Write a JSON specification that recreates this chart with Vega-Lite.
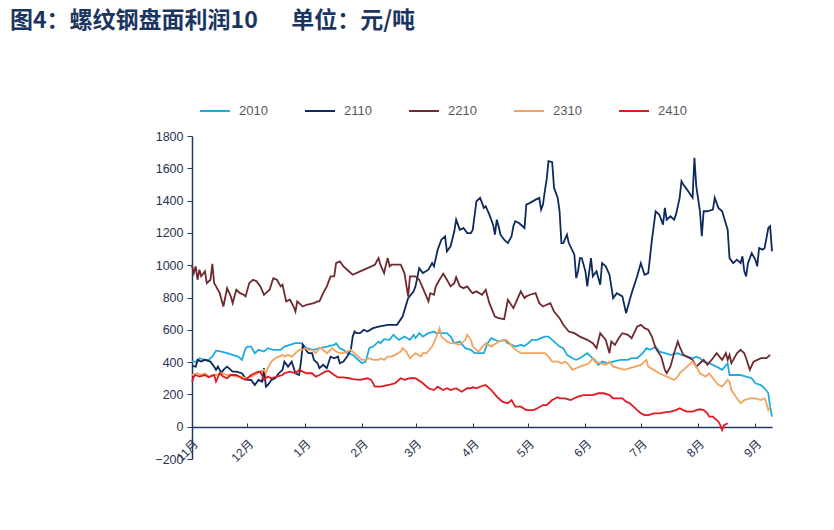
{
  "$schema": "https://vega.github.io/schema/vega-lite/v6.json",
  "width": 580,
  "height": 323,
  "autosize": "none",
  "padding": {"left": 192, "top": 136, "right": 62, "bottom": 71},
  "background": "white",
  "title": {
    "text": "图4：螺纹钢盘面利润10\u3000\u00a0\u00a0单位：元/吨",
    "anchor": "start",
    "frame": "group",
    "dx": -182,
    "dy": -58,
    "font": "Noto Sans CJK SC",
    "fontSize": 23,
    "fontWeight": "bold",
    "color": "#1B3561"
  },
  "config": {"view": {"stroke": null}},
  "data": {"values": [
{"s":"2010","d":"2023-11-01","v":403},{"s":"2010","d":"2023-11-04","v":403},{"s":"2010","d":"2023-11-05","v":424},{"s":"2010","d":"2023-11-08","v":414},{"s":"2010","d":"2023-11-10","v":414},{"s":"2010","d":"2023-11-12","v":434},{"s":"2010","d":"2023-11-14","v":471},{"s":"2010","d":"2023-11-17","v":465},{"s":"2010","d":"2023-11-20","v":455},{"s":"2010","d":"2023-11-23","v":445},{"s":"2010","d":"2023-11-26","v":434},{"s":"2010","d":"2023-11-28","v":414},{"s":"2010","d":"2023-11-30","v":486},{"s":"2010","d":"2023-12-01","v":496},{"s":"2010","d":"2023-12-03","v":496},{"s":"2010","d":"2023-12-05","v":455},{"s":"2010","d":"2023-12-07","v":476},{"s":"2010","d":"2023-12-10","v":465},{"s":"2010","d":"2023-12-12","v":486},{"s":"2010","d":"2023-12-15","v":476},{"s":"2010","d":"2023-12-19","v":476},{"s":"2010","d":"2023-12-21","v":496},{"s":"2010","d":"2023-12-24","v":507},{"s":"2010","d":"2023-12-27","v":517},{"s":"2010","d":"2023-12-30","v":517},{"s":"2010","d":"2024-01-02","v":486},{"s":"2010","d":"2024-01-06","v":476},{"s":"2010","d":"2024-01-09","v":486},{"s":"2010","d":"2024-01-13","v":496},{"s":"2010","d":"2024-01-17","v":507},{"s":"2010","d":"2024-01-18","v":517},{"s":"2010","d":"2024-01-20","v":486},{"s":"2010","d":"2024-01-22","v":476},{"s":"2010","d":"2024-01-24","v":455},{"s":"2010","d":"2024-01-27","v":445},{"s":"2010","d":"2024-01-29","v":424},{"s":"2010","d":"2024-02-01","v":393},{"s":"2010","d":"2024-02-03","v":403},{"s":"2010","d":"2024-02-05","v":486},{"s":"2010","d":"2024-02-07","v":496},{"s":"2010","d":"2024-02-10","v":527},{"s":"2010","d":"2024-02-11","v":517},{"s":"2010","d":"2024-02-13","v":542},{"s":"2010","d":"2024-02-16","v":538},{"s":"2010","d":"2024-02-18","v":569},{"s":"2010","d":"2024-02-21","v":538},{"s":"2010","d":"2024-02-24","v":558},{"s":"2010","d":"2024-02-27","v":538},{"s":"2010","d":"2024-02-29","v":569},{"s":"2010","d":"2024-03-01","v":548},{"s":"2010","d":"2024-03-03","v":579},{"s":"2010","d":"2024-03-05","v":558},{"s":"2010","d":"2024-03-08","v":579},{"s":"2010","d":"2024-03-11","v":589},{"s":"2010","d":"2024-03-12","v":579},{"s":"2010","d":"2024-03-15","v":579},{"s":"2010","d":"2024-03-18","v":579},{"s":"2010","d":"2024-03-20","v":558},{"s":"2010","d":"2024-03-22","v":517},{"s":"2010","d":"2024-03-25","v":527},{"s":"2010","d":"2024-03-28","v":486},{"s":"2010","d":"2024-03-31","v":476},{"s":"2010","d":"2024-04-02","v":455},{"s":"2010","d":"2024-04-04","v":455},{"s":"2010","d":"2024-04-07","v":455},{"s":"2010","d":"2024-04-09","v":517},{"s":"2010","d":"2024-04-11","v":548},{"s":"2010","d":"2024-04-13","v":538},{"s":"2010","d":"2024-04-15","v":527},{"s":"2010","d":"2024-04-18","v":538},{"s":"2010","d":"2024-04-20","v":517},{"s":"2010","d":"2024-04-22","v":507},{"s":"2010","d":"2024-04-24","v":496},{"s":"2010","d":"2024-04-27","v":507},{"s":"2010","d":"2024-04-29","v":500},{"s":"2010","d":"2024-05-01","v":517},{"s":"2010","d":"2024-05-03","v":538},{"s":"2010","d":"2024-05-06","v":538},{"s":"2010","d":"2024-05-08","v":548},{"s":"2010","d":"2024-05-10","v":558},{"s":"2010","d":"2024-05-12","v":558},{"s":"2010","d":"2024-05-14","v":538},{"s":"2010","d":"2024-05-16","v":517},{"s":"2010","d":"2024-05-18","v":496},{"s":"2010","d":"2024-05-20","v":486},{"s":"2010","d":"2024-05-22","v":445},{"s":"2010","d":"2024-05-25","v":424},{"s":"2010","d":"2024-05-27","v":414},{"s":"2010","d":"2024-05-29","v":424},{"s":"2010","d":"2024-06-02","v":455},{"s":"2010","d":"2024-06-04","v":434},{"s":"2010","d":"2024-06-06","v":414},{"s":"2010","d":"2024-06-08","v":383},{"s":"2010","d":"2024-06-10","v":403},{"s":"2010","d":"2024-06-13","v":393},{"s":"2010","d":"2024-06-16","v":403},{"s":"2010","d":"2024-06-20","v":414},{"s":"2010","d":"2024-06-24","v":414},{"s":"2010","d":"2024-06-26","v":424},{"s":"2010","d":"2024-06-29","v":424},{"s":"2010","d":"2024-07-02","v":455},{"s":"2010","d":"2024-07-04","v":486},{"s":"2010","d":"2024-07-06","v":476},{"s":"2010","d":"2024-07-09","v":496},{"s":"2010","d":"2024-07-11","v":465},{"s":"2010","d":"2024-07-14","v":455},{"s":"2010","d":"2024-07-17","v":445},{"s":"2010","d":"2024-07-21","v":455},{"s":"2010","d":"2024-07-23","v":445},{"s":"2010","d":"2024-07-26","v":434},{"s":"2010","d":"2024-07-29","v":424},{"s":"2010","d":"2024-07-31","v":434},{"s":"2010","d":"2024-08-02","v":424},{"s":"2010","d":"2024-08-04","v":403},{"s":"2010","d":"2024-08-07","v":393},{"s":"2010","d":"2024-08-09","v":383},{"s":"2010","d":"2024-08-11","v":372},{"s":"2010","d":"2024-08-14","v":352},{"s":"2010","d":"2024-08-17","v":393},{"s":"2010","d":"2024-08-18","v":320},{"s":"2010","d":"2024-08-20","v":320},{"s":"2010","d":"2024-08-24","v":320},{"s":"2010","d":"2024-08-27","v":310},{"s":"2010","d":"2024-08-30","v":300},{"s":"2010","d":"2024-09-01","v":269},{"s":"2010","d":"2024-09-04","v":258},{"s":"2010","d":"2024-09-06","v":238},{"s":"2010","d":"2024-09-08","v":207},{"s":"2010","d":"2024-09-09","v":124},{"s":"2010","d":"2024-09-10","v":62},
{"s":"2110","d":"2023-11-01","v":376},{"s":"2110","d":"2023-11-03","v":372},{"s":"2110","d":"2023-11-04","v":414},{"s":"2110","d":"2023-11-06","v":403},{"s":"2110","d":"2023-11-08","v":414},{"s":"2110","d":"2023-11-11","v":403},{"s":"2110","d":"2023-11-13","v":372},{"s":"2110","d":"2023-11-14","v":352},{"s":"2110","d":"2023-11-15","v":372},{"s":"2110","d":"2023-11-17","v":331},{"s":"2110","d":"2023-11-18","v":352},{"s":"2110","d":"2023-11-20","v":372},{"s":"2110","d":"2023-11-22","v":352},{"s":"2110","d":"2023-11-23","v":341},{"s":"2110","d":"2023-11-25","v":341},{"s":"2110","d":"2023-11-28","v":331},{"s":"2110","d":"2023-11-30","v":300},{"s":"2110","d":"2023-12-01","v":290},{"s":"2110","d":"2023-12-03","v":290},{"s":"2110","d":"2023-12-05","v":258},{"s":"2110","d":"2023-12-07","v":290},{"s":"2110","d":"2023-12-09","v":279},{"s":"2110","d":"2023-12-10","v":362},{"s":"2110","d":"2023-12-11","v":248},{"s":"2110","d":"2023-12-12","v":258},{"s":"2110","d":"2023-12-14","v":290},{"s":"2110","d":"2023-12-16","v":300},{"s":"2110","d":"2023-12-18","v":331},{"s":"2110","d":"2023-12-20","v":352},{"s":"2110","d":"2023-12-21","v":403},{"s":"2110","d":"2023-12-23","v":372},{"s":"2110","d":"2023-12-25","v":403},{"s":"2110","d":"2023-12-27","v":331},{"s":"2110","d":"2023-12-29","v":320},{"s":"2110","d":"2023-12-30","v":403},{"s":"2110","d":"2023-12-31","v":507},{"s":"2110","d":"2024-01-01","v":486},{"s":"2110","d":"2024-01-03","v":455},{"s":"2110","d":"2024-01-05","v":455},{"s":"2110","d":"2024-01-06","v":414},{"s":"2110","d":"2024-01-08","v":393},{"s":"2110","d":"2024-01-09","v":362},{"s":"2110","d":"2024-01-11","v":383},{"s":"2110","d":"2024-01-13","v":362},{"s":"2110","d":"2024-01-15","v":434},{"s":"2110","d":"2024-01-17","v":424},{"s":"2110","d":"2024-01-19","v":434},{"s":"2110","d":"2024-01-20","v":393},{"s":"2110","d":"2024-01-22","v":403},{"s":"2110","d":"2024-01-24","v":434},{"s":"2110","d":"2024-01-26","v":476},{"s":"2110","d":"2024-01-27","v":558},{"s":"2110","d":"2024-01-28","v":589},{"s":"2110","d":"2024-01-29","v":579},{"s":"2110","d":"2024-01-31","v":579},{"s":"2110","d":"2024-02-02","v":600},{"s":"2110","d":"2024-02-04","v":589},{"s":"2110","d":"2024-02-07","v":610},{"s":"2110","d":"2024-02-10","v":620},{"s":"2110","d":"2024-02-15","v":631},{"s":"2110","d":"2024-02-20","v":631},{"s":"2110","d":"2024-02-23","v":682},{"s":"2110","d":"2024-02-26","v":796},{"s":"2110","d":"2024-02-29","v":838},{"s":"2110","d":"2024-03-01","v":869},{"s":"2110","d":"2024-03-03","v":982},{"s":"2110","d":"2024-03-05","v":951},{"s":"2110","d":"2024-03-08","v":972},{"s":"2110","d":"2024-03-10","v":1013},{"s":"2110","d":"2024-03-11","v":993},{"s":"2110","d":"2024-03-12","v":1044},{"s":"2110","d":"2024-03-13","v":1096},{"s":"2110","d":"2024-03-15","v":1158},{"s":"2110","d":"2024-03-17","v":1179},{"s":"2110","d":"2024-03-18","v":1086},{"s":"2110","d":"2024-03-20","v":1117},{"s":"2110","d":"2024-03-22","v":1210},{"s":"2110","d":"2024-03-23","v":1282},{"s":"2110","d":"2024-03-25","v":1220},{"s":"2110","d":"2024-03-27","v":1230},{"s":"2110","d":"2024-03-29","v":1199},{"s":"2110","d":"2024-03-31","v":1199},{"s":"2110","d":"2024-04-01","v":1220},{"s":"2110","d":"2024-04-03","v":1396},{"s":"2110","d":"2024-04-05","v":1417},{"s":"2110","d":"2024-04-07","v":1355},{"s":"2110","d":"2024-04-08","v":1365},{"s":"2110","d":"2024-04-10","v":1313},{"s":"2110","d":"2024-04-12","v":1251},{"s":"2110","d":"2024-04-13","v":1189},{"s":"2110","d":"2024-04-14","v":1282},{"s":"2110","d":"2024-04-15","v":1241},{"s":"2110","d":"2024-04-16","v":1189},{"s":"2110","d":"2024-04-18","v":1158},{"s":"2110","d":"2024-04-20","v":1137},{"s":"2110","d":"2024-04-22","v":1179},{"s":"2110","d":"2024-04-23","v":1241},{"s":"2110","d":"2024-04-24","v":1272},{"s":"2110","d":"2024-04-26","v":1261},{"s":"2110","d":"2024-04-28","v":1241},{"s":"2110","d":"2024-04-29","v":1230},{"s":"2110","d":"2024-04-30","v":1375},{"s":"2110","d":"2024-05-02","v":1386},{"s":"2110","d":"2024-05-05","v":1406},{"s":"2110","d":"2024-05-07","v":1417},{"s":"2110","d":"2024-05-08","v":1344},{"s":"2110","d":"2024-05-09","v":1375},{"s":"2110","d":"2024-05-10","v":1458},{"s":"2110","d":"2024-05-11","v":1530},{"s":"2110","d":"2024-05-12","v":1644},{"s":"2110","d":"2024-05-14","v":1638},{"s":"2110","d":"2024-05-15","v":1479},{"s":"2110","d":"2024-05-17","v":1417},{"s":"2110","d":"2024-05-18","v":1334},{"s":"2110","d":"2024-05-19","v":1137},{"s":"2110","d":"2024-05-20","v":1137},{"s":"2110","d":"2024-05-22","v":1189},{"s":"2110","d":"2024-05-23","v":1137},{"s":"2110","d":"2024-05-26","v":1065},{"s":"2110","d":"2024-05-27","v":920},{"s":"2110","d":"2024-05-28","v":962},{"s":"2110","d":"2024-05-29","v":1044},{"s":"2110","d":"2024-05-30","v":1044},{"s":"2110","d":"2024-06-01","v":962},{"s":"2110","d":"2024-06-02","v":869},{"s":"2110","d":"2024-06-04","v":1044},{"s":"2110","d":"2024-06-05","v":931},{"s":"2110","d":"2024-06-07","v":962},{"s":"2110","d":"2024-06-09","v":879},{"s":"2110","d":"2024-06-10","v":1013},{"s":"2110","d":"2024-06-12","v":993},{"s":"2110","d":"2024-06-14","v":941},{"s":"2110","d":"2024-06-15","v":869},{"s":"2110","d":"2024-06-16","v":796},{"s":"2110","d":"2024-06-18","v":827},{"s":"2110","d":"2024-06-21","v":807},{"s":"2110","d":"2024-06-23","v":703},{"s":"2110","d":"2024-06-25","v":786},{"s":"2110","d":"2024-06-26","v":827},{"s":"2110","d":"2024-06-29","v":931},{"s":"2110","d":"2024-07-01","v":1013},{"s":"2110","d":"2024-07-03","v":941},{"s":"2110","d":"2024-07-05","v":951},{"s":"2110","d":"2024-07-07","v":1158},{"s":"2110","d":"2024-07-09","v":1334},{"s":"2110","d":"2024-07-11","v":1313},{"s":"2110","d":"2024-07-13","v":1251},{"s":"2110","d":"2024-07-14","v":1355},{"s":"2110","d":"2024-07-15","v":1282},{"s":"2110","d":"2024-07-17","v":1303},{"s":"2110","d":"2024-07-19","v":1282},{"s":"2110","d":"2024-07-20","v":1313},{"s":"2110","d":"2024-07-22","v":1417},{"s":"2110","d":"2024-07-23","v":1520},{"s":"2110","d":"2024-07-24","v":1499},{"s":"2110","d":"2024-07-26","v":1468},{"s":"2110","d":"2024-07-29","v":1417},{"s":"2110","d":"2024-07-30","v":1665},{"s":"2110","d":"2024-07-31","v":1489},{"s":"2110","d":"2024-08-02","v":1334},{"s":"2110","d":"2024-08-03","v":1179},{"s":"2110","d":"2024-08-04","v":1334},{"s":"2110","d":"2024-08-06","v":1334},{"s":"2110","d":"2024-08-09","v":1344},{"s":"2110","d":"2024-08-10","v":1417},{"s":"2110","d":"2024-08-12","v":1355},{"s":"2110","d":"2024-08-14","v":1334},{"s":"2110","d":"2024-08-17","v":1220},{"s":"2110","d":"2024-08-18","v":1044},{"s":"2110","d":"2024-08-20","v":1013},{"s":"2110","d":"2024-08-22","v":1034},{"s":"2110","d":"2024-08-24","v":1013},{"s":"2110","d":"2024-08-25","v":1055},{"s":"2110","d":"2024-08-26","v":962},{"s":"2110","d":"2024-08-27","v":931},{"s":"2110","d":"2024-08-28","v":1013},{"s":"2110","d":"2024-08-30","v":1075},{"s":"2110","d":"2024-09-01","v":1034},{"s":"2110","d":"2024-09-02","v":993},{"s":"2110","d":"2024-09-03","v":1106},{"s":"2110","d":"2024-09-05","v":1096},{"s":"2110","d":"2024-09-06","v":1106},{"s":"2110","d":"2024-09-08","v":1230},{"s":"2110","d":"2024-09-09","v":1241},{"s":"2110","d":"2024-09-10","v":1086},
{"s":"2210","d":"2023-11-01","v":997},{"s":"2210","d":"2023-11-02","v":951},{"s":"2210","d":"2023-11-03","v":993},{"s":"2210","d":"2023-11-04","v":910},{"s":"2210","d":"2023-11-05","v":972},{"s":"2210","d":"2023-11-06","v":931},{"s":"2210","d":"2023-11-08","v":962},{"s":"2210","d":"2023-11-09","v":889},{"s":"2210","d":"2023-11-11","v":910},{"s":"2210","d":"2023-11-12","v":1009},{"s":"2210","d":"2023-11-13","v":889},{"s":"2210","d":"2023-11-14","v":869},{"s":"2210","d":"2023-11-16","v":827},{"s":"2210","d":"2023-11-18","v":744},{"s":"2210","d":"2023-11-20","v":858},{"s":"2210","d":"2023-11-22","v":807},{"s":"2210","d":"2023-11-23","v":765},{"s":"2210","d":"2023-11-25","v":848},{"s":"2210","d":"2023-11-27","v":827},{"s":"2210","d":"2023-11-29","v":817},{"s":"2210","d":"2023-11-30","v":807},{"s":"2210","d":"2023-12-02","v":889},{"s":"2210","d":"2023-12-04","v":910},{"s":"2210","d":"2023-12-06","v":900},{"s":"2210","d":"2023-12-08","v":869},{"s":"2210","d":"2023-12-10","v":817},{"s":"2210","d":"2023-12-11","v":827},{"s":"2210","d":"2023-12-13","v":848},{"s":"2210","d":"2023-12-15","v":920},{"s":"2210","d":"2023-12-17","v":910},{"s":"2210","d":"2023-12-19","v":869},{"s":"2210","d":"2023-12-20","v":879},{"s":"2210","d":"2023-12-22","v":776},{"s":"2210","d":"2023-12-24","v":786},{"s":"2210","d":"2023-12-26","v":744},{"s":"2210","d":"2023-12-27","v":713},{"s":"2210","d":"2023-12-28","v":776},{"s":"2210","d":"2023-12-29","v":765},{"s":"2210","d":"2023-12-31","v":744},{"s":"2210","d":"2024-01-02","v":755},{"s":"2210","d":"2024-01-06","v":765},{"s":"2210","d":"2024-01-08","v":776},{"s":"2210","d":"2024-01-09","v":776},{"s":"2210","d":"2024-01-11","v":827},{"s":"2210","d":"2024-01-13","v":869},{"s":"2210","d":"2024-01-15","v":931},{"s":"2210","d":"2024-01-17","v":931},{"s":"2210","d":"2024-01-18","v":1013},{"s":"2210","d":"2024-01-20","v":1024},{"s":"2210","d":"2024-01-22","v":993},{"s":"2210","d":"2024-01-24","v":972},{"s":"2210","d":"2024-01-27","v":941},{"s":"2210","d":"2024-01-31","v":962},{"s":"2210","d":"2024-02-04","v":982},{"s":"2210","d":"2024-02-08","v":1003},{"s":"2210","d":"2024-02-10","v":1044},{"s":"2210","d":"2024-02-11","v":1003},{"s":"2210","d":"2024-02-13","v":951},{"s":"2210","d":"2024-02-14","v":1003},{"s":"2210","d":"2024-02-15","v":1044},{"s":"2210","d":"2024-02-16","v":993},{"s":"2210","d":"2024-02-17","v":1003},{"s":"2210","d":"2024-02-19","v":1003},{"s":"2210","d":"2024-02-22","v":1003},{"s":"2210","d":"2024-02-24","v":951},{"s":"2210","d":"2024-02-26","v":807},{"s":"2210","d":"2024-02-27","v":931},{"s":"2210","d":"2024-02-29","v":931},{"s":"2210","d":"2024-03-01","v":931},{"s":"2210","d":"2024-03-03","v":910},{"s":"2210","d":"2024-03-05","v":858},{"s":"2210","d":"2024-03-08","v":776},{"s":"2210","d":"2024-03-09","v":827},{"s":"2210","d":"2024-03-11","v":817},{"s":"2210","d":"2024-03-12","v":869},{"s":"2210","d":"2024-03-14","v":910},{"s":"2210","d":"2024-03-16","v":947},{"s":"2210","d":"2024-03-18","v":910},{"s":"2210","d":"2024-03-20","v":869},{"s":"2210","d":"2024-03-22","v":889},{"s":"2210","d":"2024-03-23","v":926},{"s":"2210","d":"2024-03-25","v":869},{"s":"2210","d":"2024-03-27","v":858},{"s":"2210","d":"2024-03-29","v":869},{"s":"2210","d":"2024-03-31","v":838},{"s":"2210","d":"2024-04-01","v":827},{"s":"2210","d":"2024-04-03","v":838},{"s":"2210","d":"2024-04-06","v":817},{"s":"2210","d":"2024-04-08","v":848},{"s":"2210","d":"2024-04-10","v":765},{"s":"2210","d":"2024-04-13","v":682},{"s":"2210","d":"2024-04-15","v":672},{"s":"2210","d":"2024-04-18","v":666},{"s":"2210","d":"2024-04-20","v":786},{"s":"2210","d":"2024-04-23","v":734},{"s":"2210","d":"2024-04-27","v":838},{"s":"2210","d":"2024-04-29","v":796},{"s":"2210","d":"2024-04-30","v":807},{"s":"2210","d":"2024-05-02","v":817},{"s":"2210","d":"2024-05-05","v":827},{"s":"2210","d":"2024-05-07","v":765},{"s":"2210","d":"2024-05-09","v":744},{"s":"2210","d":"2024-05-11","v":755},{"s":"2210","d":"2024-05-13","v":765},{"s":"2210","d":"2024-05-15","v":713},{"s":"2210","d":"2024-05-18","v":672},{"s":"2210","d":"2024-05-20","v":631},{"s":"2210","d":"2024-05-23","v":589},{"s":"2210","d":"2024-05-26","v":579},{"s":"2210","d":"2024-05-29","v":558},{"s":"2210","d":"2024-06-02","v":538},{"s":"2210","d":"2024-06-05","v":517},{"s":"2210","d":"2024-06-07","v":486},{"s":"2210","d":"2024-06-09","v":579},{"s":"2210","d":"2024-06-12","v":538},{"s":"2210","d":"2024-06-14","v":455},{"s":"2210","d":"2024-06-15","v":527},{"s":"2210","d":"2024-06-17","v":507},{"s":"2210","d":"2024-06-19","v":548},{"s":"2210","d":"2024-06-21","v":579},{"s":"2210","d":"2024-06-24","v":569},{"s":"2210","d":"2024-06-26","v":548},{"s":"2210","d":"2024-06-29","v":620},{"s":"2210","d":"2024-07-01","v":631},{"s":"2210","d":"2024-07-03","v":610},{"s":"2210","d":"2024-07-05","v":600},{"s":"2210","d":"2024-07-07","v":558},{"s":"2210","d":"2024-07-09","v":486},{"s":"2210","d":"2024-07-12","v":434},{"s":"2210","d":"2024-07-14","v":352},{"s":"2210","d":"2024-07-15","v":331},{"s":"2210","d":"2024-07-17","v":372},{"s":"2210","d":"2024-07-19","v":455},{"s":"2210","d":"2024-07-21","v":527},{"s":"2210","d":"2024-07-22","v":496},{"s":"2210","d":"2024-07-24","v":445},{"s":"2210","d":"2024-07-26","v":434},{"s":"2210","d":"2024-07-29","v":414},{"s":"2210","d":"2024-07-31","v":372},{"s":"2210","d":"2024-08-02","v":393},{"s":"2210","d":"2024-08-04","v":414},{"s":"2210","d":"2024-08-06","v":383},{"s":"2210","d":"2024-08-09","v":424},{"s":"2210","d":"2024-08-11","v":455},{"s":"2210","d":"2024-08-14","v":414},{"s":"2210","d":"2024-08-16","v":455},{"s":"2210","d":"2024-08-17","v":414},{"s":"2210","d":"2024-08-18","v":445},{"s":"2210","d":"2024-08-19","v":393},{"s":"2210","d":"2024-08-22","v":455},{"s":"2210","d":"2024-08-24","v":476},{"s":"2210","d":"2024-08-26","v":455},{"s":"2210","d":"2024-08-27","v":424},{"s":"2210","d":"2024-08-29","v":352},{"s":"2210","d":"2024-08-31","v":403},{"s":"2210","d":"2024-09-04","v":424},{"s":"2210","d":"2024-09-07","v":424},{"s":"2210","d":"2024-09-09","v":445},
{"s":"2310","d":"2023-11-01","v":320},{"s":"2310","d":"2023-11-04","v":331},{"s":"2310","d":"2023-11-06","v":320},{"s":"2310","d":"2023-11-08","v":331},{"s":"2310","d":"2023-11-10","v":310},{"s":"2310","d":"2023-11-12","v":320},{"s":"2310","d":"2023-11-14","v":320},{"s":"2310","d":"2023-11-17","v":331},{"s":"2310","d":"2023-11-20","v":320},{"s":"2310","d":"2023-11-22","v":320},{"s":"2310","d":"2023-11-25","v":310},{"s":"2310","d":"2023-11-28","v":310},{"s":"2310","d":"2023-11-30","v":300},{"s":"2310","d":"2023-12-03","v":310},{"s":"2310","d":"2023-12-05","v":320},{"s":"2310","d":"2023-12-08","v":341},{"s":"2310","d":"2023-12-10","v":352},{"s":"2310","d":"2023-12-11","v":331},{"s":"2310","d":"2023-12-12","v":362},{"s":"2310","d":"2023-12-14","v":403},{"s":"2310","d":"2023-12-16","v":424},{"s":"2310","d":"2023-12-18","v":434},{"s":"2310","d":"2023-12-20","v":445},{"s":"2310","d":"2023-12-21","v":434},{"s":"2310","d":"2023-12-23","v":445},{"s":"2310","d":"2023-12-25","v":434},{"s":"2310","d":"2023-12-27","v":455},{"s":"2310","d":"2023-12-29","v":476},{"s":"2310","d":"2023-12-31","v":476},{"s":"2310","d":"2024-01-01","v":486},{"s":"2310","d":"2024-01-03","v":476},{"s":"2310","d":"2024-01-05","v":476},{"s":"2310","d":"2024-01-07","v":455},{"s":"2310","d":"2024-01-09","v":486},{"s":"2310","d":"2024-01-10","v":486},{"s":"2310","d":"2024-01-13","v":455},{"s":"2310","d":"2024-01-16","v":486},{"s":"2310","d":"2024-01-18","v":465},{"s":"2310","d":"2024-01-20","v":455},{"s":"2310","d":"2024-01-22","v":455},{"s":"2310","d":"2024-01-24","v":465},{"s":"2310","d":"2024-01-26","v":476},{"s":"2310","d":"2024-01-28","v":455},{"s":"2310","d":"2024-01-30","v":434},{"s":"2310","d":"2024-02-01","v":414},{"s":"2310","d":"2024-02-03","v":414},{"s":"2310","d":"2024-02-05","v":424},{"s":"2310","d":"2024-02-07","v":414},{"s":"2310","d":"2024-02-10","v":414},{"s":"2310","d":"2024-02-11","v":424},{"s":"2310","d":"2024-02-13","v":414},{"s":"2310","d":"2024-02-15","v":434},{"s":"2310","d":"2024-02-17","v":434},{"s":"2310","d":"2024-02-19","v":445},{"s":"2310","d":"2024-02-22","v":465},{"s":"2310","d":"2024-02-23","v":486},{"s":"2310","d":"2024-02-25","v":465},{"s":"2310","d":"2024-02-27","v":424},{"s":"2310","d":"2024-02-29","v":445},{"s":"2310","d":"2024-03-01","v":455},{"s":"2310","d":"2024-03-04","v":434},{"s":"2310","d":"2024-03-05","v":455},{"s":"2310","d":"2024-03-07","v":455},{"s":"2310","d":"2024-03-10","v":496},{"s":"2310","d":"2024-03-12","v":548},{"s":"2310","d":"2024-03-14","v":610},{"s":"2310","d":"2024-03-15","v":558},{"s":"2310","d":"2024-03-18","v":527},{"s":"2310","d":"2024-03-20","v":517},{"s":"2310","d":"2024-03-22","v":517},{"s":"2310","d":"2024-03-25","v":507},{"s":"2310","d":"2024-03-28","v":538},{"s":"2310","d":"2024-03-29","v":569},{"s":"2310","d":"2024-03-31","v":538},{"s":"2310","d":"2024-04-01","v":496},{"s":"2310","d":"2024-04-04","v":465},{"s":"2310","d":"2024-04-08","v":517},{"s":"2310","d":"2024-04-11","v":496},{"s":"2310","d":"2024-04-15","v":527},{"s":"2310","d":"2024-04-19","v":538},{"s":"2310","d":"2024-04-21","v":517},{"s":"2310","d":"2024-04-23","v":486},{"s":"2310","d":"2024-04-27","v":455},{"s":"2310","d":"2024-05-02","v":455},{"s":"2310","d":"2024-05-08","v":455},{"s":"2310","d":"2024-05-10","v":455},{"s":"2310","d":"2024-05-12","v":434},{"s":"2310","d":"2024-05-14","v":403},{"s":"2310","d":"2024-05-17","v":403},{"s":"2310","d":"2024-05-19","v":393},{"s":"2310","d":"2024-05-21","v":403},{"s":"2310","d":"2024-05-23","v":383},{"s":"2310","d":"2024-05-25","v":352},{"s":"2310","d":"2024-05-27","v":362},{"s":"2310","d":"2024-05-29","v":372},{"s":"2310","d":"2024-06-01","v":383},{"s":"2310","d":"2024-06-03","v":393},{"s":"2310","d":"2024-06-05","v":424},{"s":"2310","d":"2024-06-06","v":403},{"s":"2310","d":"2024-06-09","v":393},{"s":"2310","d":"2024-06-12","v":383},{"s":"2310","d":"2024-06-14","v":403},{"s":"2310","d":"2024-06-16","v":372},{"s":"2310","d":"2024-06-19","v":362},{"s":"2310","d":"2024-06-22","v":352},{"s":"2310","d":"2024-06-25","v":362},{"s":"2310","d":"2024-06-28","v":372},{"s":"2310","d":"2024-07-01","v":383},{"s":"2310","d":"2024-07-04","v":414},{"s":"2310","d":"2024-07-05","v":372},{"s":"2310","d":"2024-07-08","v":352},{"s":"2310","d":"2024-07-11","v":331},{"s":"2310","d":"2024-07-13","v":320},{"s":"2310","d":"2024-07-17","v":300},{"s":"2310","d":"2024-07-19","v":290},{"s":"2310","d":"2024-07-21","v":310},{"s":"2310","d":"2024-07-22","v":331},{"s":"2310","d":"2024-07-26","v":372},{"s":"2310","d":"2024-07-29","v":403},{"s":"2310","d":"2024-07-31","v":372},{"s":"2310","d":"2024-08-02","v":331},{"s":"2310","d":"2024-08-05","v":310},{"s":"2310","d":"2024-08-07","v":331},{"s":"2310","d":"2024-08-09","v":300},{"s":"2310","d":"2024-08-12","v":258},{"s":"2310","d":"2024-08-14","v":248},{"s":"2310","d":"2024-08-17","v":290},{"s":"2310","d":"2024-08-18","v":279},{"s":"2310","d":"2024-08-19","v":227},{"s":"2310","d":"2024-08-22","v":176},{"s":"2310","d":"2024-08-24","v":145},{"s":"2310","d":"2024-08-26","v":165},{"s":"2310","d":"2024-08-29","v":176},{"s":"2310","d":"2024-09-01","v":176},{"s":"2310","d":"2024-09-04","v":165},{"s":"2310","d":"2024-09-06","v":176},{"s":"2310","d":"2024-09-07","v":145},{"s":"2310","d":"2024-09-08","v":103},{"s":"2310","d":"2024-09-09","v":124},
{"s":"2410","d":"2023-11-01","v":279},{"s":"2410","d":"2023-11-02","v":310},{"s":"2410","d":"2023-11-03","v":320},{"s":"2410","d":"2023-11-05","v":310},{"s":"2410","d":"2023-11-08","v":320},{"s":"2410","d":"2023-11-10","v":306},{"s":"2410","d":"2023-11-13","v":320},{"s":"2410","d":"2023-11-14","v":279},{"s":"2410","d":"2023-11-16","v":331},{"s":"2410","d":"2023-11-18","v":310},{"s":"2410","d":"2023-11-20","v":300},{"s":"2410","d":"2023-11-22","v":320},{"s":"2410","d":"2023-11-25","v":320},{"s":"2410","d":"2023-11-28","v":300},{"s":"2410","d":"2023-11-30","v":290},{"s":"2410","d":"2023-12-01","v":300},{"s":"2410","d":"2023-12-03","v":320},{"s":"2410","d":"2023-12-05","v":331},{"s":"2410","d":"2023-12-06","v":337},{"s":"2410","d":"2023-12-08","v":341},{"s":"2410","d":"2023-12-10","v":290},{"s":"2410","d":"2023-12-12","v":310},{"s":"2410","d":"2023-12-14","v":300},{"s":"2410","d":"2023-12-17","v":310},{"s":"2410","d":"2023-12-20","v":320},{"s":"2410","d":"2023-12-21","v":331},{"s":"2410","d":"2023-12-24","v":341},{"s":"2410","d":"2023-12-27","v":331},{"s":"2410","d":"2023-12-29","v":352},{"s":"2410","d":"2023-12-31","v":341},{"s":"2410","d":"2024-01-02","v":331},{"s":"2410","d":"2024-01-05","v":331},{"s":"2410","d":"2024-01-07","v":310},{"s":"2410","d":"2024-01-09","v":320},{"s":"2410","d":"2024-01-12","v":341},{"s":"2410","d":"2024-01-14","v":345},{"s":"2410","d":"2024-01-17","v":320},{"s":"2410","d":"2024-01-19","v":306},{"s":"2410","d":"2024-01-22","v":306},{"s":"2410","d":"2024-01-25","v":300},{"s":"2410","d":"2024-01-27","v":294},{"s":"2410","d":"2024-01-31","v":290},{"s":"2410","d":"2024-02-04","v":300},{"s":"2410","d":"2024-02-06","v":290},{"s":"2410","d":"2024-02-08","v":248},{"s":"2410","d":"2024-02-11","v":248},{"s":"2410","d":"2024-02-15","v":258},{"s":"2410","d":"2024-02-19","v":269},{"s":"2410","d":"2024-02-22","v":300},{"s":"2410","d":"2024-02-24","v":290},{"s":"2410","d":"2024-02-27","v":300},{"s":"2410","d":"2024-03-01","v":300},{"s":"2410","d":"2024-03-05","v":269},{"s":"2410","d":"2024-03-08","v":238},{"s":"2410","d":"2024-03-11","v":227},{"s":"2410","d":"2024-03-13","v":248},{"s":"2410","d":"2024-03-16","v":227},{"s":"2410","d":"2024-03-18","v":238},{"s":"2410","d":"2024-03-20","v":227},{"s":"2410","d":"2024-03-23","v":238},{"s":"2410","d":"2024-03-26","v":217},{"s":"2410","d":"2024-03-29","v":238},{"s":"2410","d":"2024-03-31","v":238},{"s":"2410","d":"2024-04-01","v":244},{"s":"2410","d":"2024-04-03","v":238},{"s":"2410","d":"2024-04-06","v":252},{"s":"2410","d":"2024-04-08","v":258},{"s":"2410","d":"2024-04-11","v":227},{"s":"2410","d":"2024-04-14","v":186},{"s":"2410","d":"2024-04-15","v":176},{"s":"2410","d":"2024-04-17","v":155},{"s":"2410","d":"2024-04-20","v":145},{"s":"2410","d":"2024-04-22","v":165},{"s":"2410","d":"2024-04-24","v":124},{"s":"2410","d":"2024-04-27","v":124},{"s":"2410","d":"2024-04-30","v":103},{"s":"2410","d":"2024-05-01","v":103},{"s":"2410","d":"2024-05-04","v":103},{"s":"2410","d":"2024-05-06","v":114},{"s":"2410","d":"2024-05-09","v":134},{"s":"2410","d":"2024-05-11","v":134},{"s":"2410","d":"2024-05-14","v":165},{"s":"2410","d":"2024-05-17","v":182},{"s":"2410","d":"2024-05-18","v":176},{"s":"2410","d":"2024-05-21","v":176},{"s":"2410","d":"2024-05-24","v":165},{"s":"2410","d":"2024-05-26","v":176},{"s":"2410","d":"2024-05-28","v":186},{"s":"2410","d":"2024-05-31","v":196},{"s":"2410","d":"2024-06-03","v":196},{"s":"2410","d":"2024-06-05","v":196},{"s":"2410","d":"2024-06-08","v":207},{"s":"2410","d":"2024-06-11","v":207},{"s":"2410","d":"2024-06-14","v":196},{"s":"2410","d":"2024-06-16","v":176},{"s":"2410","d":"2024-06-18","v":176},{"s":"2410","d":"2024-06-21","v":176},{"s":"2410","d":"2024-06-23","v":155},{"s":"2410","d":"2024-06-25","v":145},{"s":"2410","d":"2024-06-27","v":124},{"s":"2410","d":"2024-06-29","v":103},{"s":"2410","d":"2024-07-01","v":83},{"s":"2410","d":"2024-07-03","v":72},{"s":"2410","d":"2024-07-05","v":72},{"s":"2410","d":"2024-07-08","v":83},{"s":"2410","d":"2024-07-11","v":83},{"s":"2410","d":"2024-07-13","v":87},{"s":"2410","d":"2024-07-17","v":93},{"s":"2410","d":"2024-07-20","v":103},{"s":"2410","d":"2024-07-22","v":114},{"s":"2410","d":"2024-07-24","v":103},{"s":"2410","d":"2024-07-26","v":93},{"s":"2410","d":"2024-07-29","v":93},{"s":"2410","d":"2024-07-31","v":103},{"s":"2410","d":"2024-08-02","v":108},{"s":"2410","d":"2024-08-04","v":103},{"s":"2410","d":"2024-08-06","v":83},{"s":"2410","d":"2024-08-07","v":62},{"s":"2410","d":"2024-08-09","v":62},{"s":"2410","d":"2024-08-10","v":52},{"s":"2410","d":"2024-08-12","v":31},{"s":"2410","d":"2024-08-13","v":10},{"s":"2410","d":"2024-08-14","v":-21},{"s":"2410","d":"2024-08-15","v":10},{"s":"2410","d":"2024-08-17","v":21}
  ]},
  "mark": {"type": "line", "strokeWidth": 1.8, "clip": false},
  "encoding": {
    "x": {
      "field": "d",
      "type": "temporal",
      "scale": {"domain": ["2023-11-01", "2024-09-10"]},
      "axis": {
        "title": null,
        "orient": "bottom",
        "offset": -32,
        "format": "%-m月",
        "tickCount": {"interval": "month", "step": 1},
        "labelAngle": -45,
        "labelFont": "Liberation Sans, Noto Sans CJK SC",
        "labelFontSize": 12,
        "labelColor": "#2A3350",
        "labelPadding": 15,
        "labelFlush": false,
        "labelOverlap": false,
        "domainColor": "#1F3864",
        "domainWidth": 1.5,
        "tickColor": "#1F3864",
        "tickSize": -4,
        "tickWidth": 1,
        "grid": false
      }
    },
    "y": {
      "field": "v",
      "type": "quantitative",
      "scale": {"domain": [-200, 1800], "nice": false, "zero": false},
      "axis": {
        "title": null,
        "format": "d",
        "values": [-200, 0, 200, 400, 600, 800, 1000, 1200, 1400, 1600, 1800],
        "labelFont": "Liberation Sans",
        "labelFontSize": 12.5,
        "labelColor": "#2A3350",
        "labelPadding": 4,
        "domainColor": "#1F3864",
        "domainWidth": 1.5,
        "tickColor": "#1F3864",
        "tickSize": 5,
        "grid": false
      }
    },
    "color": {
      "field": "s",
      "type": "nominal",
      "scale": {
        "domain": ["2010", "2110", "2210", "2310", "2410"],
        "range": ["#1FAAE0", "#0E2A5C", "#6E2A2C", "#F2A45E", "#E3191F"]
      },
      "legend": {
        "title": null,
        "orient": "none",
        "legendX": 7,
        "legendY": -41,
        "direction": "horizontal",
        "columns": 5,
        "symbolType": "stroke",
        "symbolSize": 900,
        "symbolStrokeWidth": 2,
        "labelOffset": 8,
        "columnPadding": 33,
        "labelFont": "Liberation Sans",
        "labelFontSize": 13,
        "labelColor": "#595959"
      }
    }
  }
}
